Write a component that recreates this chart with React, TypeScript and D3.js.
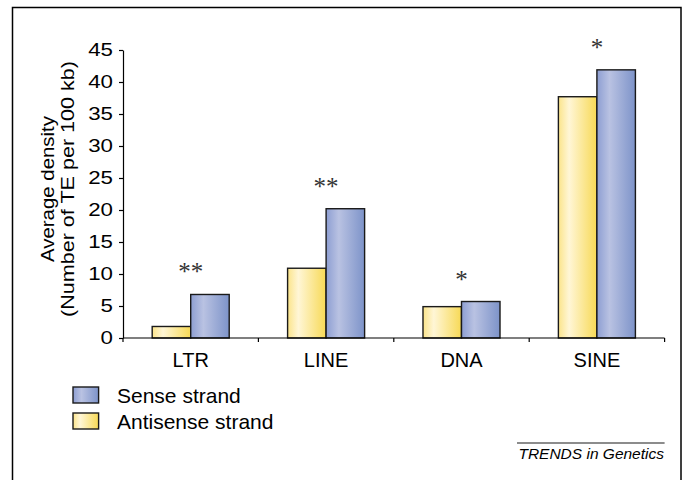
import React, { useEffect, useRef } from "react";
import * as d3 from "d3";

const categories = ["LTR", "LINE", "DNA", "SINE"];
const seriesNames = ["Antisense strand", "Sense strand"];
const antisenseValues = [1.8, 10.9, 4.9, 37.7];
const senseValues = [6.8, 20.2, 5.7, 41.9];
const significance = ["**", "**", "*", "*"];
const yTicks = [0, 5, 10, 15, 20, 25, 30, 35, 40, 45];

const W = 683;
const H = 480;

const App = () => {
  const svgRef = useRef<SVGSVGElement>(null);

  useEffect(() => {
    const svg = d3.select(svgRef.current);
    svg.selectAll("*").remove();

    const font = "Arial, 'Liberation Sans', Helvetica, sans-serif";

    const defs = svg.append("defs");
    const yellow = defs
      .append("linearGradient")
      .attr("id", "gYellow")
      .attr("x1", "0%")
      .attr("x2", "100%")
      .attr("y1", "0%")
      .attr("y2", "0%");
    yellow.append("stop").attr("offset", "0%").attr("stop-color", "#fbe48a");
    yellow.append("stop").attr("offset", "28%").attr("stop-color", "#fff6d6");
    yellow.append("stop").attr("offset", "100%").attr("stop-color", "#f7d955");

    const blue = defs
      .append("linearGradient")
      .attr("id", "gBlue")
      .attr("x1", "0%")
      .attr("x2", "100%")
      .attr("y1", "0%")
      .attr("y2", "0%");
    blue.append("stop").attr("offset", "0%").attr("stop-color", "#8d9ed2");
    blue.append("stop").attr("offset", "33%").attr("stop-color", "#b9c2e2");
    blue.append("stop").attr("offset", "100%").attr("stop-color", "#7d93c9");

    const fills = ["url(#gYellow)", "url(#gBlue)"];

    // frame
    svg
      .append("rect")
      .attr("x", 12.5)
      .attr("y", 7.5)
      .attr("width", 668.5)
      .attr("height", H)
      .attr("fill", "white")
      .attr("stroke", "#000")
      .attr("stroke-width", 1.5);

    const x = d3.scaleBand().domain(categories).range([123, 664.6]).padding(0);
    const xSub = d3
      .scaleBand()
      .domain(seriesNames)
      .range([0, x.bandwidth()])
      .paddingInner(0)
      .paddingOuter(0.758);
    const y = d3.scaleLinear().domain([0, 45]).range([338, 50]);

    // bars
    const rows = categories.map((c, i) => ({
      cat: c,
      values: [antisenseValues[i], senseValues[i]],
      sig: significance[i],
    }));

    const groups = svg
      .selectAll(".grp")
      .data(rows)
      .enter()
      .append("g")
      .attr("transform", (d) => `translate(${x(d.cat)},0)`);

    groups
      .selectAll("rect")
      .data((d) => d.values.map((v, j) => ({ v, j })))
      .enter()
      .append("rect")
      .attr("x", (d) => xSub(seriesNames[d.j]))
      .attr("y", (d) => y(d.v))
      .attr("width", xSub.bandwidth())
      .attr("height", (d) => y(0) - y(d.v))
      .attr("fill", (d) => fills[d.j])
      .attr("stroke", "#1a1a1a")
      .attr("stroke-width", 1.4);

    groups
      .append("text")
      .attr("x", x.bandwidth() / 2)
      .attr("y", (d) => y(d3.max(d.values)) - 14)
      .attr("text-anchor", "middle")
      .attr("font-family", "'Liberation Serif', 'Times New Roman', serif")
      .attr("font-size", 25)
      .attr("fill", "#333")
      .text((d) => d.sig);

    // y axis
    const yAxis = svg
      .append("g")
      .attr("transform", "translate(123,0)")
      .call(d3.axisLeft(y).tickValues(yTicks).tickSize(4).tickSizeOuter(0).tickPadding(6));
    yAxis.select(".domain").attr("stroke", "#000").attr("stroke-width", 1.2);
    yAxis.selectAll(".tick line").attr("stroke", "#000").attr("stroke-width", 1.2);
    yAxis
      .selectAll(".tick text")
      .attr("font-family", font)
      .attr("font-size", 18)
      .attr("fill", "#000")
      .attr("textLength", (d) => String(d).length * 12.4)
      .attr("lengthAdjust", "spacingAndGlyphs");

    // x axis
    const xAxis = svg.append("g").attr("transform", `translate(0,${y(0)})`);
    xAxis
      .append("line")
      .attr("x1", 123)
      .attr("x2", 664.6)
      .attr("stroke", "#000")
      .attr("stroke-width", 1.2);
    const bounds = [...categories.map((c) => x(c) as number), 664.6];
    xAxis
      .selectAll(".xt")
      .data(bounds)
      .enter()
      .append("line")
      .attr("x1", (d) => d)
      .attr("x2", (d) => d)
      .attr("y1", 0)
      .attr("y2", 4)
      .attr("stroke", "#000")
      .attr("stroke-width", 1.2);
    xAxis
      .selectAll(".xl")
      .data(categories)
      .enter()
      .append("text")
      .attr("x", (d) => (x(d) as number) + x.bandwidth() / 2)
      .attr("y", 28.5)
      .attr("text-anchor", "middle")
      .attr("font-family", font)
      .attr("font-size", 20)
      .attr("fill", "#000")
      .text((d) => d);

    // y title
    const title = svg
      .append("text")
      .attr("transform", "translate(54,189) rotate(-90)")
      .attr("text-anchor", "middle")
      .attr("font-family", font)
      .attr("font-size", 17.5)
      .attr("fill", "#000");
    title
      .append("tspan")
      .attr("x", 0)
      .attr("y", 0)
      .attr("textLength", 146)
      .attr("lengthAdjust", "spacingAndGlyphs")
      .text("Average density");
    title
      .append("tspan")
      .attr("x", 0)
      .attr("y", 19.5)
      .attr("textLength", 256)
      .attr("lengthAdjust", "spacingAndGlyphs")
      .text("(Number of TE per 100 kb)");

    // legend
    const legendItems = [
      { name: seriesNames[1], fill: fills[1] },
      { name: seriesNames[0], fill: fills[0] },
    ];
    const legend = svg
      .selectAll(".leg")
      .data(legendItems)
      .enter()
      .append("g")
      .attr("transform", (d, i) => `translate(73,${387 + i * 26})`);
    legend
      .append("rect")
      .attr("width", 25.6)
      .attr("height", 16)
      .attr("fill", (d) => d.fill)
      .attr("stroke", "#1a1a1a")
      .attr("stroke-width", 1.4);
    legend
      .append("text")
      .attr("x", 44)
      .attr("y", 16)
      .attr("font-family", font)
      .attr("font-size", 21)
      .attr("fill", "#000")
      .text((d) => d.name);

    // source
    svg
      .append("line")
      .attr("x1", 517)
      .attr("x2", 664.6)
      .attr("y1", 443)
      .attr("y2", 443)
      .attr("stroke", "#666")
      .attr("stroke-width", 1.5);
    svg
      .append("text")
      .attr("x", 664)
      .attr("y", 458.5)
      .attr("text-anchor", "end")
      .attr("font-family", font)
      .attr("font-style", "italic")
      .attr("font-size", 15.5)
      .attr("fill", "#000")
      .text("TRENDS in Genetics");
  }, []);

  return (
    <svg
      ref={svgRef}
      width={W}
      height={H}
      style={{ position: "absolute", left: 0, top: 0, background: "white" }}
    ></svg>
  );
};

export default App;
